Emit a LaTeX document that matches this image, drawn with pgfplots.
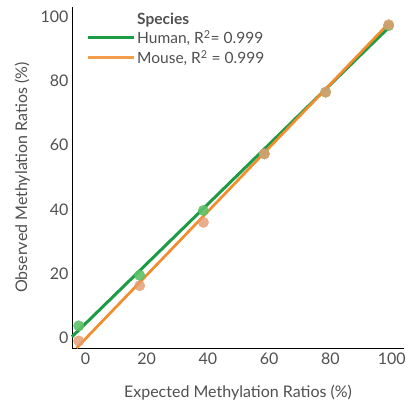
\documentclass[border=0pt]{standalone}
\usepackage{fontspec}
\setmainfont{Lato}
\usepackage{pgfplots}
\pgfplotsset{compat=1.18}

\definecolor{humanline}{HTML}{1E9B45}
\definecolor{humandot}{HTML}{5CC167}
\definecolor{mouseline}{HTML}{F28C2C}
\definecolor{mousedot}{HTML}{E59A6E}
\definecolor{txt}{HTML}{505050}

\begin{document}
\begin{tikzpicture}
\begin{axis}[
  width=332pt, height=341pt, scale only axis,
  xmin=-4.4, xmax=104, ymin=-3.1, ymax=103,
  axis x line*=bottom, axis y line*=left,
  axis line style={-, black, line width=0.9pt},
  xtick={0,20,40,60,80,100}, ytick={0,20,40,60,80,100},
  major tick length=0pt,
  tick label style={font=\fontsize{16}{18}\selectfont, text=txt},
  /pgf/number format/assume math mode=true,
  xticklabel style={yshift=-1pt},
  xlabel={Expected Methylation Ratios (\%)},
  ylabel={Observed Methylation Ratios (\%)},
  label style={font=\fontsize{16}{18}\selectfont, text=txt},
  xlabel style={yshift=-14pt},
  ylabel style={yshift=4pt},
  clip=false,
  legend style={draw=none, fill=none, at={(0.042,0.99)}, anchor=north west,
    font=\fontsize{15.5}{18}\selectfont, text=txt, row sep=1pt, inner sep=0pt},
  legend cell align=left,
  legend image code/.code={\draw[#1] (0pt,0pt) -- (42pt,0pt); \path (0pt,0pt) -- (46pt,0pt);},
]
\addlegendimage{empty legend}
\addlegendentry{\textbf{Species}}
\addlegendimage{draw=humanline, line width=3.1pt}
\addlegendentry{Human, R\textsuperscript{2}= 0.999}
\addlegendimage{draw=mouseline!85!white, line width=2.7pt}
\addlegendentry{Mouse, R\textsuperscript{2} = 0.999}
% fitted lines
\addplot[forget plot, draw=humanline, line width=3pt] coordinates {(-4.4,0.4) (98.9,96.5)};
\addplot[forget plot, draw=mouseline, line width=2.7pt] coordinates {(-2.9,-3.1) (99.1,98.0)};
% observed points
\addplot[forget plot, only marks, mark=*, mark size=5.2pt, color=humandot, opacity=0.9]
  coordinates {(-2.2,3.8) (17.7,19.5) (38.5,39.7) (58.4,57.3) (78.4,76.5) (99.0,97.2)};
\addplot[forget plot, only marks, mark=*, mark size=5.2pt, color=mousedot, opacity=0.8]
  coordinates {(-2.2,-0.9) (17.7,16.3) (38.5,36.0) (58.4,57.3) (78.4,76.5) (99.0,97.5)};
\end{axis}
\pgfresetboundingbox
\path (current axis.south west) ++(-72pt,-54pt) coordinate (bl);
\path (current axis.north east) ++(10pt,7pt) coordinate (tr);
\path (bl) rectangle (tr);
\end{tikzpicture}
\end{document}
